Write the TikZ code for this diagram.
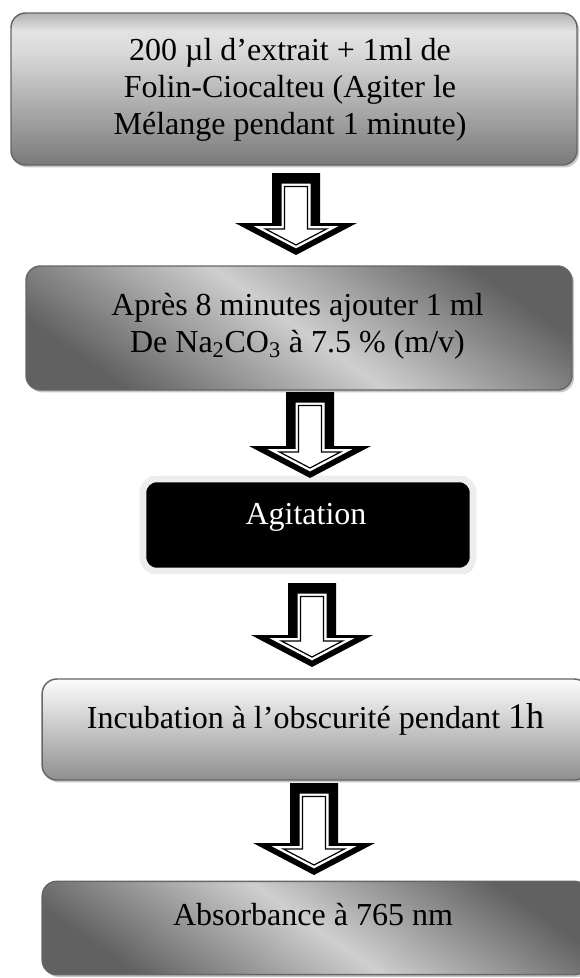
\documentclass[tikz,border=0pt]{standalone}
\usepackage{fontspec}
\setmainfont{Liberation Serif}
\usetikzlibrary{positioning}
\usetikzlibrary{shadows}

% grey fills of the boxes (25bp = bottom, 75bp = top)
\pgfdeclareverticalshading{stepone}{100bp}{color(0bp)=(black!52); color(25bp)=(black!52); color(62bp)=(black!15); color(69bp)=(black!11); color(75bp)=(black!30); color(100bp)=(black!30)}
\pgfdeclareverticalshading{stepband}{100bp}{color(0bp)=(black!62); color(25bp)=(black!62); color(50bp)=(black!19); color(75bp)=(black!62); color(100bp)=(black!62)}
\pgfdeclareverticalshading{steplight}{100bp}{color(0bp)=(black!44); color(25bp)=(black!44); color(75bp)=(black!1); color(100bp)=(black!1)}

\tikzset{
  stepbox/.style={draw=black!60, line width=1.1pt, rounded corners=11pt, inner sep=0pt,
    drop shadow={shadow xshift=1.6pt, shadow yshift=-1.8pt, fill=black!22, opacity=1}},
  steptext/.style={align=center, inner sep=0pt, font=\fontsize{24}{27.75}\selectfont},
  blackbox/.style={fill=black, draw=black!7, line width=5pt, rounded corners=10pt, inner sep=0pt,
    drop shadow={shadow xshift=1.6pt, shadow yshift=-2.2pt, fill=black!25, opacity=1}},
  arrowin/.style={draw=black, line width=0.9pt, fill=white, preaction={draw=white, line width=4.5pt}},
}

% hollow down arrow: x centre, top of shaft, tip
\newcommand{\flowarrow}[3]{%
  \pgfmathsetmacro{\headbase}{#3-32}
  \fill[black] (#1-24,#2) -- (#1+24,#2) -- (#1+24,\headbase) -- (#1+61,\headbase)
    -- (#1,#3) -- (#1-61,\headbase) -- (#1-24,\headbase) -- cycle;
  \draw[arrowin] (#1-11.5,#2+13.5) -- (#1+11.5,#2+13.5) -- (#1+11.5,\headbase+6)
    -- (#1+30.5,\headbase+6) -- (#1,#3-10) -- (#1-30.5,\headbase+6) -- (#1-11.5,\headbase+6) -- cycle;
}

\begin{document}
\begin{tikzpicture}[x=0.75pt,y=-0.75pt]
  \useasboundingbox (0,0) rectangle (579,978);

  \node[stepbox, shading=stepone, minimum width=424.5pt, minimum height=114pt] (mix) at (294,89) {};
  \node[steptext] (mixtext) at (290,90) {200 µl d’extrait + 1ml de\\Folin-Ciocalteu (Agiter le\\Mélange pendant 1 minute)};

  \node[stepbox, shading=stepband, shading angle=-35, minimum width=409.5pt, minimum height=93pt] (add) at (299,328) {};
  \node[steptext] (addtext) at (297.5,326) {Après 8 minutes ajouter 1 ml\\De Na\textsubscript{2}CO\textsubscript{3} à 7.5 \% (m/v)};

  \node[blackbox, minimum width=247.5pt, minimum height=69pt] (agit) at (308,525) {};
  \node[steptext, text=white, anchor=base] (agittext) at (306,524) {Agitation};

  \node[stepbox, shading=steplight, minimum width=410pt, minimum height=75.75pt] (incub) at (315.5,729.5) {};
  \node[steptext, anchor=base] (incubtext) at (315.5,728) {Incubation à l’obscurité pendant {\fontsize{27}{30}\selectfont 1h}};

  \node[stepbox, shading=stepband, shading angle=-35, minimum width=410pt, minimum height=70pt] (abs) at (315.5,928) {};
  \node[steptext, anchor=base] (abstext) at (313,925) {Absorbance à 765 nm};

  % arrows between the steps
  \flowarrow{296}{173}{255}
  \flowarrow{310}{392}{478}
  \flowarrow{312}{583}{667}
  \flowarrow{314}{783}{875}
\end{tikzpicture}
\end{document}
